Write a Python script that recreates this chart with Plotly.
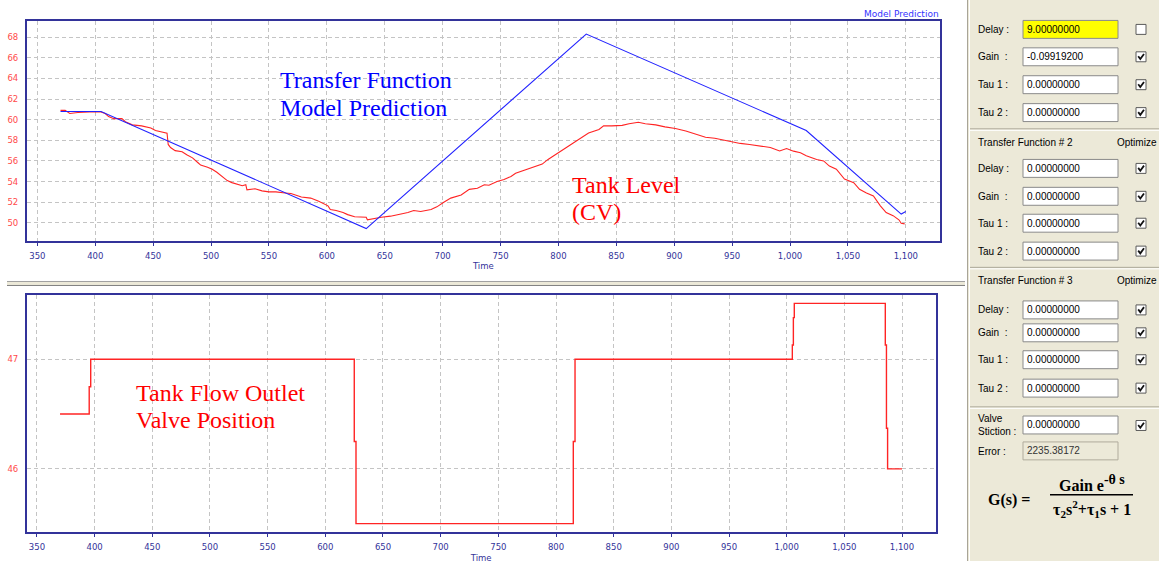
import plotly.graph_objects as go

# ---------------- data ----------------
model_time = [370, 405, 634, 824, 1014, 1096, 1100]
model_level = [60.8, 60.8, 49.45, 68.3, 58.95, 50.85, 51.1]

tank_time = [370, 374, 378, 385, 395, 405, 408.6, 411.5, 416, 423, 426, 432, 440, 448, 452, 458, 462,
             463, 465, 469, 475, 479, 484, 489, 491, 497, 501, 505, 510, 514, 518, 523, 527, 530, 531,
             538, 544, 550, 556, 564, 569, 578, 586, 593, 601, 603, 608, 614, 618, 624, 629, 634, 635,
             641, 647, 655, 661, 670, 675, 681, 690, 695, 701, 707, 716, 723, 730, 736, 740, 747, 753,
             759, 763, 771, 780, 786, 791, 800, 807, 813, 820, 826, 835, 839, 846, 855, 861, 869, 875,
             884, 892, 901, 910, 918, 927, 935, 944, 950, 957, 965, 974, 983, 991, 997, 1003, 1009,
             1014, 1023, 1029, 1034, 1040, 1047, 1055, 1060, 1066, 1072, 1078, 1083, 1089, 1094, 1096, 1099]
tank_level = [60.9, 60.9, 60.6, 60.7, 60.75, 60.75, 60.6, 60.3, 60.1, 60.1, 59.8, 59.5, 59.4, 59.2, 58.95,
              58.8, 58.7, 57.6, 57.3, 57.0, 56.9, 56.6, 56.3, 55.8, 55.6, 55.4, 55.2, 54.9, 54.5, 54.1,
              53.9, 53.7, 53.6, 53.7, 53.2, 53.3, 53.1, 53.0, 53.0, 52.9, 52.85, 52.5, 52.4, 52.1, 51.65,
              51.3, 51.2, 51.0, 50.8, 50.6, 50.6, 50.55, 50.3, 50.45, 50.55, 50.65, 50.8, 51.0, 51.2, 51.1,
              51.3, 51.55, 52.0, 52.4, 52.7, 53.25, 53.35, 53.7, 53.65, 54.0, 54.2, 54.5, 54.8, 55.1, 55.5,
              55.7, 56.15, 56.8, 57.3, 57.75, 58.25, 58.7, 59.05, 59.4, 59.4, 59.45, 59.6, 59.75, 59.6,
              59.5, 59.3, 59.15, 58.9, 58.6, 58.3, 58.2, 58.0, 57.85, 57.7, 57.6, 57.45, 57.3, 56.97,
              57.2, 56.95, 56.8, 56.5, 56.15, 56.0, 55.5, 55.2, 54.25, 53.9, 53.25, 52.9, 52.6, 51.65,
              51.0, 50.7, 50.3, 49.97, 49.9]

valve_time = [370, 395.3, 396.6, 625.1, 626.6, 815.0, 816.5, 1004.9, 1005.8, 1006.6,
              1085.5, 1086.5, 1087.5, 1100]
valve_pos = [46.5, 46.75, 47.0, 46.25, 45.5, 46.25, 47.0, 47.13, 47.38, 47.51,
             47.13, 46.37, 46.0, 46.0]

x_ticks = list(range(350, 1101, 50))
top_y_ticks = list(range(50, 69, 2))
bottom_y_ticks = [46, 47]

# panel contents
tf_labels = ["Delay :", "Gain  :", "Tau 1 :", "Tau 2 :"]
tf1_values = ["9.00000000", "-0.09919200", "0.00000000", "0.00000000"]
tf1_checked = [False, True, True, True]
tf2_values = ["0.00000000", "0.00000000", "0.00000000", "0.00000000"]
tf3_values = ["0.00000000", "0.00000000", "0.00000000", "0.00000000"]
stiction_value = "0.00000000"
error_value = "2235.38172"

# ---------------- helpers ----------------
W, H = 1159, 563


def fx(px):
    return px / W


def fy(py):
    return 1 - py / H


NAVY = "#33339a"
GRID = "#c4c4c4"
RED = "#ff2424"
BLUE = "#2222ff"
TICKFONT = dict(family="DejaVu Sans", size=8.5, color=NAVY)
REDTICK = dict(family="DejaVu Sans", size=8.5, color="#ff4a4a")

fig = go.Figure()
fig.add_trace(go.Scatter(x=tank_time, y=tank_level, mode="lines",
                         line=dict(color=RED, width=1.1), xaxis="x", yaxis="y",
                         name="Tank Level"))
fig.add_trace(go.Scatter(x=model_time, y=model_level, mode="lines",
                         line=dict(color=BLUE, width=1.1), xaxis="x", yaxis="y",
                         name="Model Prediction"))
fig.add_trace(go.Scatter(x=valve_time, y=valve_pos, mode="lines", line_shape="hv",
                         line=dict(color=RED, width=1.4), xaxis="x2", yaxis="y2",
                         name="Valve Position"))

common_x = dict(tickvals=x_ticks, tickformat=",", showgrid=True, gridcolor=GRID,
                griddash="4px,3px", gridwidth=1, showline=True, mirror=True,
                linecolor=NAVY, linewidth=1.5, ticks="outside", ticklen=3,
                tickcolor=NAVY, tickfont=TICKFONT, zeroline=False,
                ticklabelstandoff=3,
                title=dict(text="Time", font=TICKFONT, standoff=3))
common_y = dict(showgrid=True, gridcolor=GRID, griddash="4px,3px", gridwidth=1,
                showline=True, mirror=True, linecolor=NAVY, linewidth=1.5,
                ticks="", tickfont=REDTICK, zeroline=False, ticklabelstandoff=5)

fig.update_layout(
    width=W, height=H,
    margin=dict(l=0, r=0, t=0, b=0),
    paper_bgcolor="white", plot_bgcolor="white",
    showlegend=False,
    xaxis=dict(domain=[fx(26.7), fx(940)], range=[340.8, 1129.5], anchor="y", **common_x),
    yaxis=dict(domain=[fy(242), fy(21)], range=[48.23, 69.57], tickvals=top_y_ticks,
               anchor="x", **common_y),
    xaxis2=dict(domain=[fx(26.7), fx(935.7)], range=[341.1, 1129.2], anchor="y2",
                **{**common_x, "title": dict(text="Time", font=TICKFONT, standoff=5)}),
    yaxis2=dict(domain=[fy(534.3), fy(295.7)], range=[45.42, 47.59], tickvals=bottom_y_ticks,
                anchor="x2", **common_y),
)

shapes = []
annotations = []


def text(px, py, s, size=10, color="black", family="Liberation Sans", xanchor="left"):
    annotations.append(dict(xref="paper", yref="paper", x=fx(px), y=fy(py), text=s,
                            showarrow=False, xanchor=xanchor, yanchor="middle",
                            font=dict(family=family, size=size, color=color)))


def rect(x0, y0, x1, y1, fill, line="rgba(0,0,0,0)", lw=0):
    shapes.append(dict(type="rect", xref="paper", yref="paper", x0=fx(x0), x1=fx(x1),
                       y0=fy(y1), y1=fy(y0), fillcolor=fill, line=dict(color=line, width=lw),
                       layer="above"))


def hline(x0, x1, y, color, w=1):
    shapes.append(dict(type="line", xref="paper", yref="paper", x0=fx(x0), x1=fx(x1),
                       y0=fy(y), y1=fy(y), line=dict(color=color, width=w), layer="above"))


def vline(x, y0, y1, color, w=1):
    shapes.append(dict(type="line", xref="paper", yref="paper", x0=fx(x), x1=fx(x),
                       y0=fy(y0), y1=fy(y1), line=dict(color=color, width=w), layer="above"))


# chart annotations
text(278, 80, "Transfer Function", 24, "#0000ff", "Liberation Serif")
text(278, 108, "Model Prediction", 24, "#0000ff", "Liberation Serif")
text(570, 186, "Tank Level", 24, "#ff0000", "Liberation Serif")
text(570, 213, "(CV)", 24, "#ff0000", "Liberation Serif")
text(134, 394, "Tank Flow Outlet", 24, "#ff0000", "Liberation Serif")
text(134, 421, "Valve Position", 24, "#ff0000", "Liberation Serif")
text(941, 14, "Model Prediction", 9, "#3333ff", "DejaVu Sans", xanchor="right")

# splitter between the charts
rect(7, 282.5, 965, 286.5, "#ece9d8")
hline(7, 965, 282.5, "#a0a0a0")
hline(7, 965, 286.5, "#808080")

# right panel
rect(967, 0, 1159, 563, "#ece9d8")
vline(967.5, 0, 563, "#a8a498")
vline(969.5, 0, 563, "#ffffff")


def checkbox(cy, checked):
    rect(1136, cy - 5, 1146, cy + 5, "white", "#5a5a5a", 1)
    if checked:
        pts = [(1138.2, cy - 0.5), (1140.3, cy + 2.3), (1144, cy - 2.8)]
        path = "M {} {} L {} {} L {} {}".format(fx(pts[0][0]), fy(pts[0][1]),
                                                 fx(pts[1][0]), fy(pts[1][1]),
                                                 fx(pts[2][0]), fy(pts[2][1]))
        shapes.append(dict(type="path", xref="paper", yref="paper", path=path,
                           line=dict(color="#111111", width=1.8), layer="above"))


def field(cy, label, value, checked, fill="white"):
    text(976, cy, label, 10)
    rect(1023, cy - 9, 1118, cy + 9, fill, "#8a8a8a", 1)
    text(1025, cy, value, 10)
    if checked is not None:
        checkbox(cy, checked)


def separator(y):
    hline(970, 1159, y, "#aca899")
    hline(970, 1159, y + 1.5, "#ffffff")


rows1 = [29.5, 57, 85, 113]
for i, cy in enumerate(rows1):
    field(cy, tf_labels[i], tf1_values[i], tf1_checked[i], "#ffff00" if i == 0 else "white")
separator(129.3)
text(976, 143.3, "Transfer Function # 2", 10)
text(1159, 143.3, "Optimize", 10, xanchor="right")
rows2 = [169, 197, 224, 252]
for i, cy in enumerate(rows2):
    field(cy, tf_labels[i], tf2_values[i], True)
separator(268.3)
text(976, 282, "Transfer Function # 3", 10)
text(1159, 282, "Optimize", 10, xanchor="right")
rows3 = [311, 334, 361, 389.5]
for i, cy in enumerate(rows3):
    field(cy, tf_labels[i], tf3_values[i], True)
separator(408.3)
text(976, 420, "Valve", 10)
text(976, 433, "Stiction :", 10)
rect(1023, 417.5, 1118, 435.5, "white", "#8a8a8a", 1)
text(1025, 426.5, stiction_value, 10)
checkbox(427, True)
text(976, 453, "Error :", 10)
rect(1023, 443.5, 1118, 461.5, "#ece9d8", "#b0ab9c", 1)
text(1025, 452.5, error_value, 10, color="#333333")

# transfer function formula
text(986, 502, "<b>G(s) =</b>", 16, "black", "Liberation Serif")
text(1091.5, 485, "<b>Gain e<sup><span style='font-size:14px'>-θ s</span></sup></b>", 16,
     "black", "Liberation Serif", xanchor="center")
hline(1050, 1133, 496.5, "black", 1.5)
text(1091.5, 511, "<b>τ<sub>2</sub>s<sup>2</sup>+τ<sub>1</sub>s + 1</b>", 16, "black",
     "Liberation Serif", xanchor="center")

fig.update_layout(shapes=shapes, annotations=annotations)
fig.write_html("out.html", config={"displayModeBar": False},
               post_script="document.body.style.margin='0px';document.body.style.overflow='hidden';")
